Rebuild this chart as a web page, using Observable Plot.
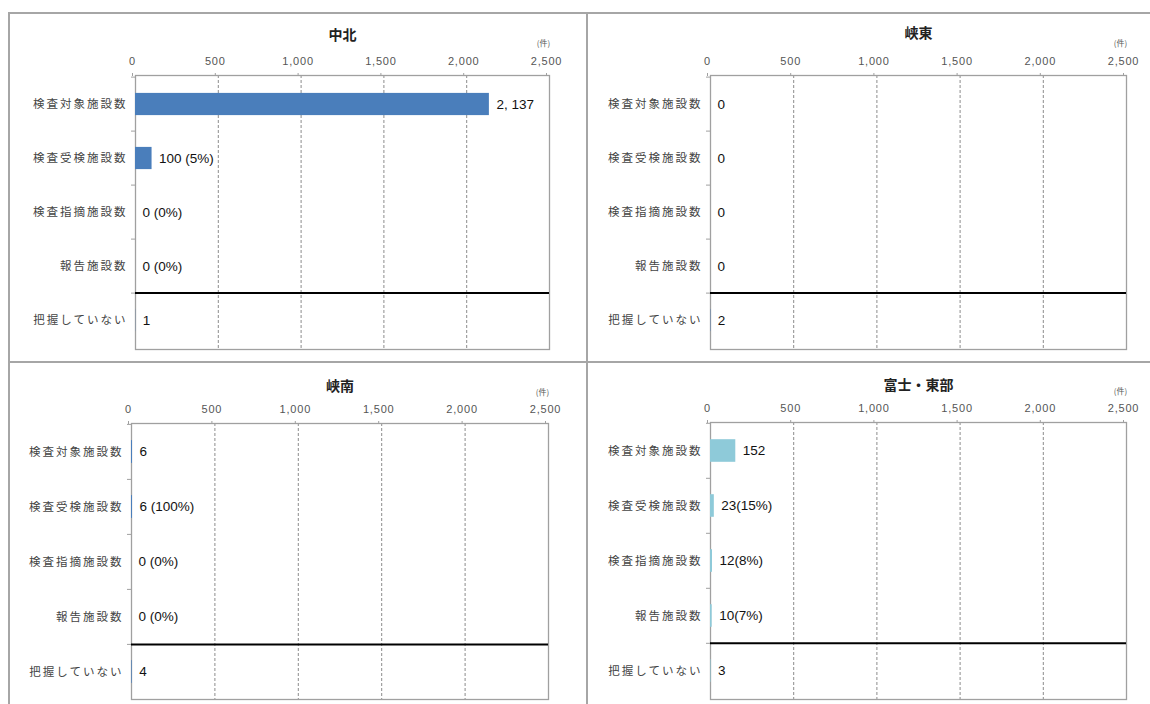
<!DOCTYPE html>
<html>
<head>
<meta charset="utf-8">
<script src="https://cdn.jsdelivr.net/npm/d3@7"></script>
<script src="https://cdn.jsdelivr.net/npm/@observablehq/plot@0.6"></script>
<style>
  html, body { margin: 0; padding: 0; background: #fff; }
  #wrap { position: relative; width: 1150px; height: 704px; overflow: hidden; background: #fff; }
  #wrap svg { position: absolute; background: transparent; }
  #wrap svg [aria-label="y-axis tick label"] text { letter-spacing: 2px; }
  #wrap svg [aria-label="x-axis tick label"] text { letter-spacing: 0.8px; }
  .line { position: absolute; background: #a6a6a6; z-index: 5; }
</style>
</head>
<body>
<div id="wrap"></div>
<script>
// ---- data ----
const categories = ["検査対象施設数", "検査受検施設数", "検査指摘施設数", "報告施設数", "把握していない"];
const regionTitles = ["中北", "峡東", "峡南", "富士・東部"];
const xTicks = [0, 500, 1000, 1500, 2000, 2500];
const unitLabel = "(件)";

const chuhokuValues = [2137, 100, 0, 0, 1];
const chuhokuLabels = ["2, 137", "100 (5%)", "0 (0%)", "0 (0%)", "1"];

const kyotoValues = [0, 0, 0, 0, 2];
const kyotoLabels = ["0", "0", "0", "0", "2"];

const kyonanValues = [6, 6, 0, 0, 4];
const kyonanLabels = ["6", "6 (100%)", "0 (0%)", "0 (0%)", "4"];

const fujiValues = [152, 23, 12, 10, 3];
const fujiLabels = ["152", "23(15%)", "12(8%)", "10(7%)", "3"];

const colorDark = "#4a7ebb";
const colorLight = "#8ecad9";

// ---- drawing ----
const numFont = "'Liberation Sans', 'DejaVu Sans', sans-serif";
const cjkFont = "'Noto Sans CJK JP', sans-serif";

function panel(o) {
  const data = categories.map((c, i) => ({cat: c, v: o.values[i], label: o.labels[i]}));
  const step = (o.height - o.mt - o.mb) / categories.length;
  const inset = (step - 23) / 2;
  const svg = Plot.plot({
    width: o.width, height: o.height,
    marginLeft: o.ml, marginRight: o.mr, marginTop: o.mt, marginBottom: o.mb,
    style: {fontFamily: cjkFont, background: "transparent", color: "#404040"},
    x: {domain: [xTicks[0], xTicks[xTicks.length - 1]], label: null},
    y: {domain: categories, padding: 0, label: null},
    marks: [
      Plot.gridX(xTicks, {stroke: "#8c8c8c", strokeOpacity: 1, strokeDasharray: "3,2"}),
      Plot.frame({stroke: "#a0a0a0", strokeWidth: 1.3}),
      Plot.ruleY(categories, {dy: -step / 2, x1: -24, x2: 0, stroke: "#a0a0a0"}),
      Plot.barX(data, {y: "cat", x: "v", fill: o.color, insetTop: inset, insetBottom: inset}),
      Plot.ruleY([categories[categories.length - 1]], {dy: -step / 2, stroke: "#000", strokeWidth: 2}),
      Plot.text(data, {y: "cat", x: "v", text: "label", textAnchor: "start", dx: 7,
        fontSize: 13.5, fontFamily: numFont, fill: "#111"}),
      Plot.axisX({anchor: "top", ticks: xTicks, tickFormat: d3.format(","), tickSize: 3, tickPadding: 8,
        fontSize: 11, fontFamily: numFont, fill: "#555", stroke: "#a0a0a0", dx: -3, label: null}),
      Plot.axisY({tickSize: 0, tickPadding: 8, fontSize: 11.5, fill: "#444", label: null}),
      Plot.text([o.title], {frameAnchor: "top", dy: o.titleDy, fontSize: 14, fontWeight: "bold",
        fill: "#222", lineAnchor: "middle"}),
      Plot.text([unitLabel], {frameAnchor: "top-right", textAnchor: "middle", dy: o.unitDy, dx: -6, fontSize: 8,
        fill: "#555", lineAnchor: "middle"})
    ]
  });
  svg.style.left = o.left + "px";
  svg.style.top = o.top + "px";
  return svg;
}

const wrap = document.getElementById("wrap");
const panels = [
  {title: regionTitles[0], values: chuhokuValues, labels: chuhokuLabels, color: colorDark,
   left: 10, top: 14, width: 576, height: 348, ml: 125, mr: 37, mt: 61, mb: 13, titleDy: -40, unitDy: -32},
  {title: regionTitles[1], values: kyotoValues, labels: kyotoLabels, color: colorDark,
   left: 588, top: 14, width: 560, height: 348, ml: 122, mr: 22, mt: 61, mb: 13, titleDy: -42, unitDy: -32},
  {title: regionTitles[2], values: kyonanValues, labels: kyonanLabels, color: colorDark,
   left: 10, top: 363, width: 576, height: 341, ml: 121, mr: 38, mt: 60, mb: 5, titleDy: -37, unitDy: -31},
  {title: regionTitles[3], values: fujiValues, labels: fujiLabels, color: colorLight,
   left: 588, top: 363, width: 560, height: 341, ml: 122, mr: 22, mt: 59, mb: 5, titleDy: -37, unitDy: -31}
];
for (const p of panels) wrap.appendChild(panel(p));

// panel borders
function line(x, y, w, h) {
  const d = document.createElement("div");
  d.className = "line";
  Object.assign(d.style, {left: x + "px", top: y + "px", width: w + "px", height: h + "px"});
  wrap.appendChild(d);
}
line(8, 12, 1142, 2);
line(8, 12, 2, 692);
line(586, 12, 2, 692);
line(8, 361, 1142, 2);
</script>
</body>
</html>
